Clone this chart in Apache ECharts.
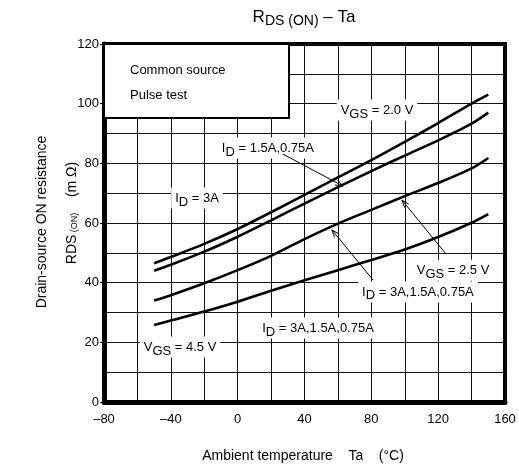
<!DOCTYPE html>
<html><head><meta charset="utf-8">
<script src="https://cdn.jsdelivr.net/npm/echarts@6/dist/echarts.min.js"></script>
<style>html,body{margin:0;padding:0;background:#fff}#c{width:519px;height:471px}</style>
</head><body><div id="c"></div>
<script>
// ---- data ----
const temps   = [-50, -40, -20, 0, 20, 40, 60, 80, 100, 120, 140, 150];
const vgs20_3A   = [46.5, 48.6, 53.0, 58.0, 63.6, 69.4, 75.3, 81.1, 87.2, 93.5, 100.0, 103.0];
const vgs20_15A  = [44.0, 46.0, 50.4, 55.4, 60.9, 66.5, 72.0, 77.4, 82.6, 87.7, 93.3, 97.0];
const vgs25_all  = [34.0, 35.8, 39.8, 44.2, 49.0, 54.6, 59.8, 64.4, 69.0, 73.4, 78.3, 81.8];
const vgs45_all  = [25.8, 27.3, 30.3, 33.6, 37.3, 40.8, 44.2, 47.6, 51.1, 55.3, 60.1, 63.0];
const xTickLabels = ['-80', '-40', '0', '40', '80', '120', '160'];
const yTickLabels = ['0', '20', '40', '60', '80', '100', '120'];

// annotations: text in data coords
const annTexts = [
  { parts: [['n','V'],['s','GS'],['n',' = 2.0 V']], at: [83.4, 97.9] },
  { parts: [['n','I'],['s','D'],['n',' = 1.5A,0.75A']], at: [18.1, 85.1] },
  { parts: [['n','I'],['s','D'],['n',' = 3A']], at: [-24.3, 68.4] },
  { parts: [['n','V'],['s','GS'],['n',' = 2.5 V']], at: [128.9, 44.2] },
  { parts: [['n','I'],['s','D'],['n',' = 3A,1.5A,0.75A']], at: [107.9, 36.9] },
  { parts: [['n','I'],['s','D'],['n',' = 3A,1.5A,0.75A']], at: [48.1, 24.8] },
  { parts: [['n','V'],['s','GS'],['n',' = 4.5 V']], at: [-34.5, 18.4] }
];
const annArrows = [
  { from: [27.1, 83.1], to: [63.0, 72.4] },
  { from: [124.7, 49.6], to: [98.3, 67.7] },
  { from: [81.0, 40.9], to: [56.4, 57.7] }
];

const FONT = '"Liberation Sans", Arial, Helvetica, sans-serif';
const chart = echarts.init(document.getElementById('c'), null, {renderer: 'canvas'});
const pairs = arr => temps.map((t, i) => [t, arr[i]]);
const lineSeries = (name, arr) => ({
  name, type: 'line', data: pairs(arr), smooth: 0.3, showSymbol: false, symbol: 'none',
  lineStyle: { color: '#000', width: 2.6 }, z: 5, silent: true
});
const minus = v => String(v).replace('-', '\u2013');

chart.setOption({
  animation: false,
  backgroundColor: '#fff',
  grid: { left: 104, top: 44, width: 401, height: 358, show: true, borderColor: '#000', borderWidth: 4, backgroundColor: 'transparent' },
  xAxis: {
    type: 'value', min: -80, max: 160, interval: 40,
    axisLine: { show: true, onZero: false, lineStyle: { color: '#000', width: 5 } },
    axisTick: { show: false },
    axisLabel: { color: '#000', fontSize: 13, fontFamily: FONT, margin: 11,
      formatter: v => xTickLabels.includes(String(v)) ? minus(v) : '' },
    splitLine: { show: true, lineStyle: { color: '#111', width: 1 } },
    minorTick: { show: false, splitNumber: 2 },
    minorSplitLine: { show: true, lineStyle: { color: '#111', width: 1 } }
  },
  yAxis: {
    type: 'value', min: 0, max: 120, interval: 20,
    axisLine: { show: true, onZero: false, lineStyle: { color: '#000', width: 5 } },
    axisTick: { show: true, length: 4, lineStyle: { color: '#000', width: 1 } },
    axisLabel: { color: '#000', fontSize: 13, fontFamily: FONT, margin: 5,
      formatter: v => yTickLabels.includes(String(v)) ? String(v) : '' },
    splitLine: { show: true, lineStyle: { color: '#111', width: 1 } },
    minorTick: { show: false, splitNumber: 2 },
    minorSplitLine: { show: true, lineStyle: { color: '#111', width: 1 } }
  },
  series: [
    lineSeries('VGS=2.0V ID=3A', vgs20_3A),
    lineSeries('VGS=2.0V ID=1.5A,0.75A', vgs20_15A),
    lineSeries('VGS=2.5V', vgs25_all),
    lineSeries('VGS=4.5V', vgs45_all)
  ]
});

const rich = {
  n: { fontSize: 13, fontFamily: FONT, color: '#000' },
  s: { fontSize: 13, fontFamily: FONT, color: '#000', padding: [7, 0, 0, 0] },
  big: { fontSize: 17, fontFamily: FONT, color: '#000' },
  bsub: { fontSize: 14, fontFamily: FONT, color: '#000', padding: [9, 0, 0, 0] },
  ax: { fontSize: 14, fontFamily: FONT, color: '#000' },
  axs: { fontSize: 9, fontFamily: FONT, color: '#000', padding: [6, 0, 0, 0] }
};
const fmt = parts => parts.map(p => '{' + p[0] + '|' + p[1] + '}').join('');

const graphics = [];
// legend box
graphics.push({ type: 'rect', shape: { x: 104, y: 44, width: 185, height: 74 },
  style: { fill: '#fff', stroke: '#000', lineWidth: 2 }, z: 20 });
graphics.push({ type: 'text', x: 130, y: 70, z: 21, style: { text: 'Common source', font: '13px ' + FONT, fill: '#000', verticalAlign: 'middle' } });
graphics.push({ type: 'text', x: 130, y: 95, z: 21, style: { text: 'Pulse test', font: '13px ' + FONT, fill: '#000', verticalAlign: 'middle' } });

// annotations
annTexts.forEach(a => {
  const p = chart.convertToPixel({ gridIndex: 0 }, a.at);
  graphics.push({ type: 'text', x: p[0], y: p[1], z: 15,
    style: { text: fmt(a.parts), rich, align: 'center', verticalAlign: 'middle',
      backgroundColor: '#fff', padding: [1, 4, 0, 4] } });
});
annArrows.forEach(a => {
  const f = chart.convertToPixel({ gridIndex: 0 }, a.from);
  const t = chart.convertToPixel({ gridIndex: 0 }, a.to);
  const ang = Math.atan2(t[1] - f[1], t[0] - f[0]);
  const L = 8, w = 0.35;
  const h1 = [t[0] - L * Math.cos(ang - w), t[1] - L * Math.sin(ang - w)];
  const h2 = [t[0] - L * Math.cos(ang + w), t[1] - L * Math.sin(ang + w)];
  graphics.push({ type: 'line', z: 16, shape: { x1: f[0], y1: f[1], x2: t[0], y2: t[1] }, style: { stroke: '#000', lineWidth: 1 } });
  graphics.push({ type: 'polyline', z: 16, shape: { points: [h1, t, h2] }, style: { stroke: '#000', lineWidth: 1, fill: null } });
});

// title
graphics.push({ type: 'text', x: 304, y: 17, z: 20,
  style: { text: '{big|R}{bsub|DS (ON)}{big| \u2013 Ta}', rich, align: 'center', verticalAlign: 'middle' } });
// x axis name
graphics.push({ type: 'text', x: 303, y: 456, z: 20,
  style: { text: 'Ambient temperature    Ta    (\u00B0C)', font: '14px ' + FONT, fill: '#000', align: 'center', verticalAlign: 'middle' } });
// y axis names
graphics.push({ type: 'text', x: 42, y: 222, rotation: Math.PI / 2, z: 20,
  style: { text: 'Drain-source ON resistance', font: '14px ' + FONT, fill: '#000', align: 'center', verticalAlign: 'middle' } });
graphics.push({ type: 'text', x: 72, y: 213, rotation: Math.PI / 2, z: 20,
  style: { text: '{ax|R}{ax|DS}{axs| (ON)}{ax|    (m \u03A9)}', rich, align: 'center', verticalAlign: 'middle' } });

chart.setOption({ graphic: graphics });
</script>
</body></html>
